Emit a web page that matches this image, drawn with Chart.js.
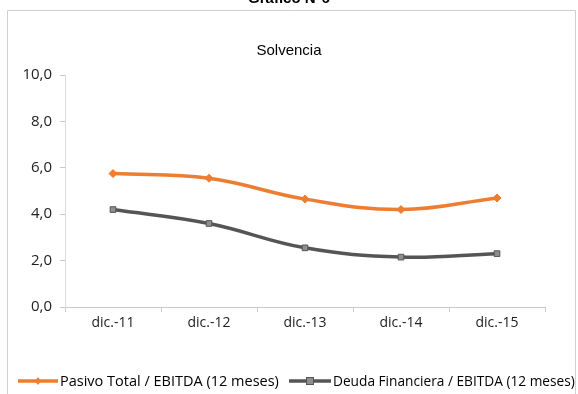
<!DOCTYPE html>
<html>
<head>
<meta charset="utf-8">
<script src="https://cdn.jsdelivr.net/npm/chart.js@4"></script>
<style>
  html, body { margin: 0; padding: 0; background: #fff; }
  #wrap { width: 578px; height: 394px; position: relative; }
</style>
</head>
<body>
<div id="wrap"><canvas id="c" width="578" height="394"></canvas></div>
<script>
// Periods and ratios
const categories = ['dic.-11', 'dic.-12', 'dic.-13', 'dic.-14', 'dic.-15'];
const pasivoTotalEbitda = [5.75, 5.55, 4.65, 4.2, 4.7];
const deudaFinancieraEbitda = [4.2, 3.6, 2.55, 2.15, 2.3];
const seriesLabels = ['Pasivo Total / EBITDA (12 meses)', 'Deuda Financiera / EBITDA (12 meses)'];
const yTicks = [0, 2, 4, 6, 8, 10];

const ORANGE = '#ED7D31';
const GREY_LINE = '#555555';
const GREY_FILL = '#8f8f8f';

function fmt(v) { return v.toFixed(1).replace('.', ','); }

// Frame, headings and the legend row
const decorations = {
  id: 'decorations',
  beforeDraw(chart) {
    const ctx = chart.ctx;
    ctx.save();
    ctx.fillStyle = '#fff';
    ctx.fillRect(0, 0, chart.width, chart.height);
    ctx.strokeStyle = '#cfcfcf';
    ctx.lineWidth = 1;
    ctx.beginPath();
    ctx.moveTo(7.5, 394); ctx.lineTo(7.5, 10.5); ctx.lineTo(575.5, 10.5); ctx.lineTo(575.5, 394);
    ctx.stroke();
    ctx.restore();
  },
  afterDraw(chart) {
    const ctx = chart.ctx;
    ctx.save();
    ctx.fillStyle = '#000';
    ctx.textAlign = 'center';
    ctx.textBaseline = 'alphabetic';
    ctx.font = 'bold 15px "Liberation Sans"';
    ctx.fillText('Gráfico N°6', 289, 3);
    ctx.font = '15px "Liberation Sans"';
    ctx.fillText('Solvencia', 289, 55);

    // legend: each label fitted to its slot
    const y = 381;
    ctx.textAlign = 'left';
    ctx.textBaseline = 'middle';
    const items = [
      { x: 18, textX: 60, textEnd: 280, marker: 'diamond' },
      { x: 289, textX: 333, textEnd: 575, marker: 'square' }
    ];
    chart.data.datasets.forEach((ds, i) => {
      const it = items[i];
      ctx.strokeStyle = ds.borderColor;
      ctx.lineWidth = 3.5;
      ctx.beginPath();
      ctx.moveTo(it.x, y); ctx.lineTo(it.textX - 2, y);
      ctx.stroke();
      const mx = (it.x + it.textX - 2) / 2;
      if (it.marker === 'diamond') {
        ctx.fillStyle = ORANGE;
        ctx.beginPath();
        ctx.moveTo(mx, y - 4); ctx.lineTo(mx + 3, y); ctx.lineTo(mx, y + 4); ctx.lineTo(mx - 3, y);
        ctx.closePath(); ctx.fill();
      } else {
        ctx.fillStyle = GREY_FILL;
        ctx.fillRect(mx - 3.5, y - 3.5, 7, 7);
        ctx.strokeStyle = GREY_LINE; ctx.lineWidth = 1;
        ctx.strokeRect(mx - 3.5, y - 3.5, 7, 7);
      }
      let size = 14.5;
      ctx.font = size + 'px "Open Sans"';
      const w = ctx.measureText(ds.label).width;
      const avail = it.textEnd - it.textX;
      if (w > avail) {
        size = size * avail / w;
        ctx.font = size.toFixed(2) + 'px "Open Sans"';
      }
      ctx.fillStyle = '#000';
      ctx.fillText(ds.label, it.textX, y + 1);
    });
    ctx.restore();
  }
};

new Chart(document.getElementById('c'), {
  type: 'line',
  data: {
    labels: categories,
    datasets: [
      {
        label: seriesLabels[0],
        data: pasivoTotalEbitda,
        borderColor: ORANGE,
        backgroundColor: ORANGE,
        borderWidth: 3.5,
        tension: 0.4,
        pointStyle: 'rectRot',
        pointRadius: 4,
        pointBackgroundColor: ORANGE,
        pointBorderColor: ORANGE,
        pointBorderWidth: 1
      },
      {
        label: seriesLabels[1],
        data: deudaFinancieraEbitda,
        borderColor: GREY_LINE,
        backgroundColor: GREY_FILL,
        borderWidth: 3.5,
        tension: 0.4,
        pointStyle: 'rect',
        pointRadius: 4,
        pointBackgroundColor: GREY_FILL,
        pointBorderColor: GREY_LINE,
        pointBorderWidth: 1
      }
    ]
  },
  options: {
    responsive: false,
    animation: false,
    devicePixelRatio: 1,
    layout: { padding: { top: 75, right: 33, bottom: 57, left: 0 } },
    plugins: {
      legend: { display: false },
      title: { display: false },
      tooltip: { enabled: false }
    },
    scales: {
      x: {
        type: 'category',
        offset: true,
        grid: {
          offset: true,
          drawOnChartArea: false,
          drawTicks: true,
          tickLength: 5,
          color: '#c8c8c8'
        },
        border: { display: true, color: '#c8c8c8', width: 1 },
        ticks: { color: '#222', font: { family: 'Open Sans', size: 14 }, padding: 3, maxRotation: 0 },
        afterFit(scale) { scale.height = 30; }
      },
      y: {
        min: 0,
        max: 10,
        afterBuildTicks(scale) { scale.ticks = yTicks.map(v => ({ value: v })); },
        grid: {
          drawOnChartArea: false,
          drawTicks: true,
          tickLength: 5,
          color: '#c8c8c8'
        },
        border: { display: true, color: '#dcdcdc', width: 1 },
        ticks: {
          color: '#222',
          font: { family: 'Open Sans', size: 15 },
          padding: 8,
          callback: v => fmt(v)
        },
        afterFit(scale) { scale.width = 65; }
      }
    }
  },
  plugins: [decorations]
});
</script>
</body>
</html>
